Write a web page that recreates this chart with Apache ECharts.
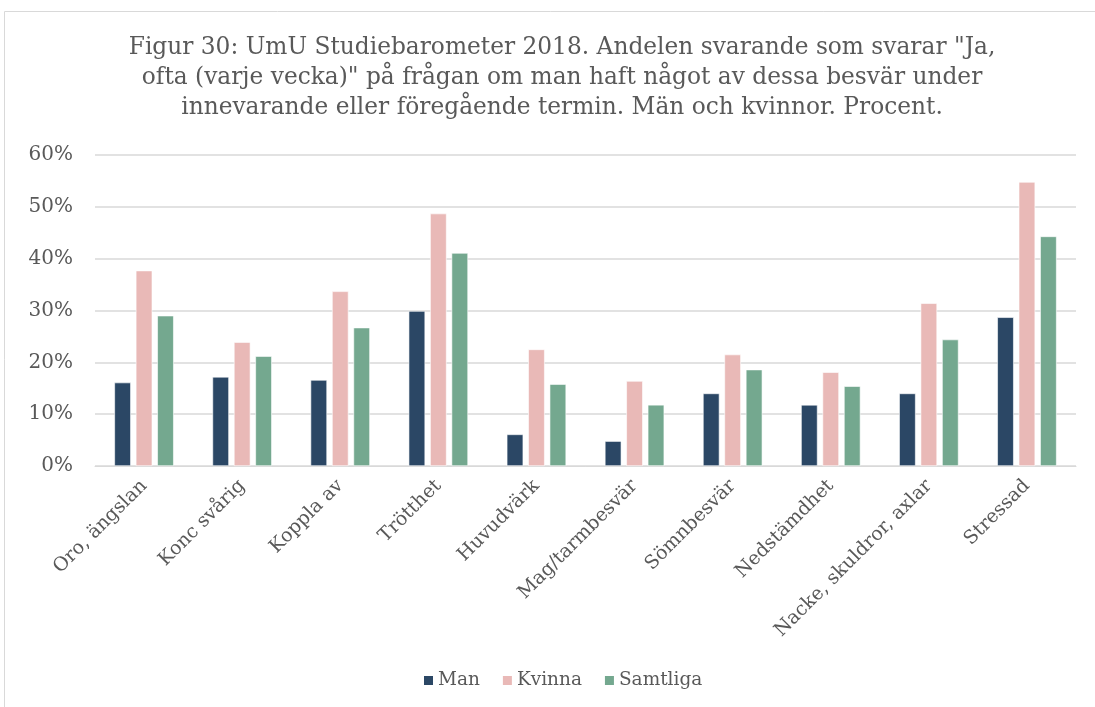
<!DOCTYPE html>
<html>
<head>
<meta charset="utf-8">
<script src="https://cdn.jsdelivr.net/npm/echarts@6/dist/echarts.min.js"></script>
<style>
  html, body { margin: 0; padding: 0; background: #fff; }
  #chart { width: 1095px; height: 707px; }
</style>
</head>
<body>
<div id="chart"></div>
<script>
const categories = ['Oro, ängslan', 'Konc svårig', 'Koppla av', 'Trötthet', 'Huvudvärk',
  'Mag/tarmbesvär', 'Sömnbesvär', 'Nedstämdhet', 'Nacke, skuldror, axlar', 'Stressad']
const man = [16.1, 17.2, 16.6, 29.9, 6.1, 4.8, 14.0, 11.8, 14.0, 28.7]
const kvinna = [37.7, 23.9, 33.7, 48.7, 22.5, 16.4, 21.5, 18.1, 31.4, 54.8]
const samtliga = [29.0, 21.2, 26.7, 41.1, 15.8, 11.8, 18.6, 15.4, 24.4, 44.3]
const yTicks = [0, 10, 20, 30, 40, 50, 60]

const font = 'DejaVu Serif'
const textColor = '#595959'

const myChart = echarts.init(document.getElementById('chart'))

function barSeries(name, data, color) {
  return {
    name,
    type: 'bar',
    data,
    barWidth: 16.5,
    barGap: '30%',
    itemStyle: { color, borderColor: '#ffffff', borderWidth: 0.6 },
  }
}

myChart.setOption({
  animation: false,
  textStyle: { fontFamily: font },
  title: {
    text: 'Figur 30: UmU Studiebarometer 2018. Andelen svarande som svarar "Ja,\nofta (varje vecka)" på frågan om man haft något av dessa besvär under\ninnevarande eller föregående termin. Män och kvinnor. Procent.',
    left: 557,
    top: 28,
    textAlign: 'center',
    textStyle: {
      fontFamily: font,
      fontSize: 23.3,
      fontWeight: 'normal',
      color: textColor,
      lineHeight: 30,
      align: 'center',
    },
  },
  graphic: [
    {
      type: 'rect',
      shape: { x: 4.5, y: 11.5, width: 1200, height: 800 },
      style: { fill: 'none', stroke: '#d9d9d9', lineWidth: 1 },
      silent: true,
    },
  ],
  legend: {
    bottom: 12,
    left: 417,
    itemWidth: 11,
    itemHeight: 11,
    itemGap: 21,
    icon: 'rect',
    textStyle: { fontFamily: font, fontSize: 18.5, color: textColor, padding: [0, 0, 0, -1] },
    data: ['Man', 'Kvinna', 'Samtliga'],
  },
  grid: {
    left: 95,
    right: 19,
    top: 155,
    bottom: 241,
    containLabel: false,
  },
  xAxis: {
    type: 'category',
    data: categories,
    axisTick: { show: false },
    axisLine: { lineStyle: { color: '#d9d9d9', width: 1 } },
    axisLabel: {
      rotate: 45,
      interval: 0,
      margin: 17,
      fontFamily: font,
      fontSize: 19,
      color: textColor,
    },
  },
  yAxis: {
    type: 'value',
    min: yTicks[0],
    max: yTicks[yTicks.length - 1],
    interval: 10,
    axisLine: { show: false },
    axisTick: { show: false },
    axisLabel: {
      formatter: '{value}%',
      margin: 22,
      fontFamily: font,
      fontSize: 20,
      color: textColor,
    },
    splitLine: { lineStyle: { color: '#d9d9d9', width: 1.5 } },
  },
  series: [
    barSeries('Man', man, '#2b4765'),
    barSeries('Kvinna', kvinna, '#e9b9b7'),
    barSeries('Samtliga', samtliga, '#74a88f'),
  ],
})
</script>
</body>
</html>
